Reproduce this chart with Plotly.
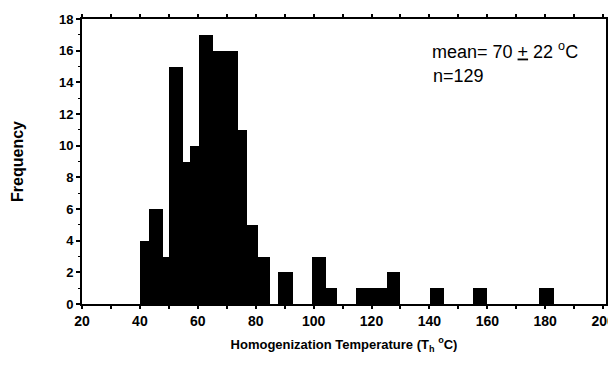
import plotly.graph_objects as go

# Histogram bins (temperature, deg C)
bin_left = [40.0, 43.0, 48.0, 50.2, 54.8, 57.3, 60.4, 65.1, 69.5, 74.0, 77.0, 80.9,
            87.8, 99.6, 104.2, 114.6, 118.2, 121.8, 125.4, 140.2, 155.1, 178.0]
bin_right = [43.0, 48.0, 50.2, 54.8, 57.3, 60.4, 65.1, 69.5, 74.0, 77.0, 80.9, 85.0,
             93.0, 104.2, 108.0, 118.2, 121.8, 125.4, 129.8, 145.0, 159.9, 182.9]
frequency = [4, 6, 3, 15, 9, 10, 17, 16, 16, 11, 5, 3,
             2, 3, 1, 1, 1, 1, 2, 1, 1, 1]

x_ticks = [20, 40, 60, 80, 100, 120, 140, 160, 180, 200]
y_ticks = [0, 2, 4, 6, 8, 10, 12, 14, 16, 18]

centers = [(a + b) / 2 for a, b in zip(bin_left, bin_right)]
widths = [b - a for a, b in zip(bin_left, bin_right)]

FONT = "Liberation Sans, Arial, Helvetica, sans-serif"

fig = go.Figure()
fig.add_trace(go.Bar(
    x=centers, y=frequency, width=widths,
    marker=dict(color="black", line=dict(width=0)),
    hoverinfo="x+y", showlegend=False,
))

# page body has an 8px default margin, so the figure is sized to fill the rest
fig.update_layout(
    width=608, height=357,
    margin=dict(l=74, r=10, t=11, b=61, autoexpand=False),
    paper_bgcolor="white", plot_bgcolor="white",
    bargap=0,
    font=dict(family=FONT, color="black"),
    xaxis=dict(
        range=[20, 201], tickvals=x_ticks, ticktext=[str(v) for v in x_ticks],
        automargin=False,
        showgrid=False, zeroline=False,
        showline=True, linecolor="black", linewidth=2, mirror="ticks",
        ticks="outside", ticklen=3, tickwidth=2, tickcolor="black",
        minor=dict(dtick=10, ticks="outside", ticklen=3, tickwidth=1.5, tickcolor="black"),
        tickfont=dict(family=FONT, size=14, color="black", weight="bold"),
        title=dict(text="<b>Homogenization Temperature (T<sub>h</sub> <sup>o</sup>C)</b>",
                   font=dict(family=FONT, size=13, color="black"), standoff=12),
    ),
    yaxis=dict(
        range=[0, 18], tickvals=y_ticks, ticktext=[str(v) for v in y_ticks],
        automargin=False,
        showgrid=False, zeroline=False,
        showline=True, linecolor="black", linewidth=2, mirror="ticks",
        ticks="outside", ticklen=4, tickwidth=2, tickcolor="black",
        minor=dict(dtick=1, ticks="outside", ticklen=2, tickwidth=1, tickcolor="black"),
        tickfont=dict(family=FONT, size=13, color="black", weight="bold"),
        title=dict(text="<b>Frequency</b>", font=dict(family=FONT, size=16, color="black"),
                   standoff=31),
    ),
)

fig.add_annotation(
    xref="paper", yref="paper", x=0.664, y=0.888, xanchor="left", yanchor="middle",
    text="mean= 70 <u>+</u> 22 <sup>o</sup>C", showarrow=False,
    font=dict(family=FONT, size=18, color="black"),
)
fig.add_annotation(
    xref="paper", yref="paper", x=0.666, y=0.80, xanchor="left", yanchor="middle",
    text="n=129", showarrow=False,
    font=dict(family=FONT, size=18, color="black"),
)

fig.write_html("out.html")
